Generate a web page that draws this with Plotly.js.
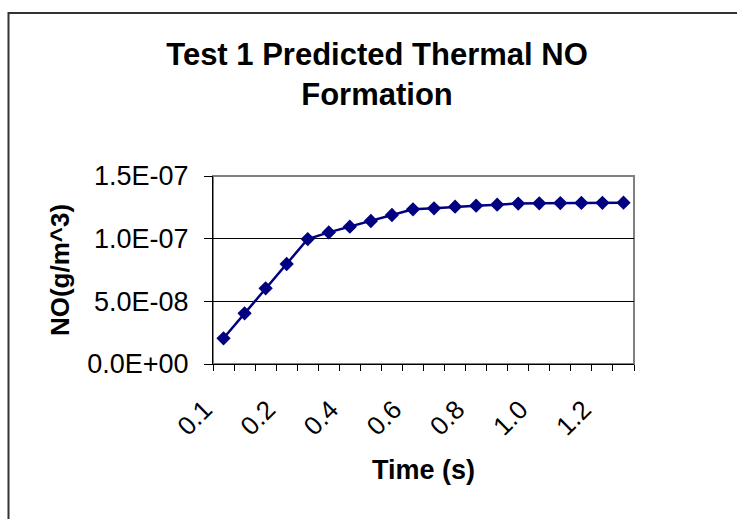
<!DOCTYPE html>
<html>
<head>
<meta charset="utf-8">
<script src="https://cdn.plot.ly/plotly-3.0.1.min.js"></script>
<style>html,body{margin:0;padding:0;background:#fff;}#chart{width:737px;height:519px;}</style>
</head>
<body>
<div id="chart"></div>
<script>
// Category index (Excel category axis, 20 time steps)
var categoryIndex = [1,2,3,4,5,6,7,8,9,10,11,12,13,14,15,16,17,18,19,20];
// Predicted NO concentration (g/m^3)
var noValues = [2.05e-8, 4.04e-8, 6.04e-8, 7.98e-8, 9.97e-8, 1.05e-7, 1.096e-7, 1.141e-7, 1.189e-7, 1.234e-7,
                1.242e-7, 1.255e-7, 1.263e-7, 1.271e-7, 1.28e-7, 1.282e-7, 1.284e-7, 1.285e-7, 1.286e-7, 1.287e-7];
// X tick labels shown every third category
var xTickPositions = [1, 4, 7, 10, 13, 16, 19];
var xTickLabels = ["0.1", "0.2", "0.4", "0.6", "0.8", "1.0", "1.2"];
// Y tick labels
var yTickValues = [0, 5e-8, 1e-7, 1.5e-7];
var yTickLabels = ["0.0E+00", "5.0E-08", "1.0E-07", "1.5E-07"];

var font = "Liberation Sans, Arial, sans-serif";

var trace = {
  x: categoryIndex,
  y: noValues,
  type: "scatter",
  mode: "lines+markers",
  line: {color: "#000080", width: 2.5},
  marker: {symbol: "diamond", size: 11, color: "#000080"},
  hoverinfo: "y"
};

var L = 213, R = 634, T = 176, B = 364, W = 737, H = 519;
function px(x){ return (x - L) / (R - L); }
function py(y){ return (B - y) / (B - T); }

var layout = {
  width: W, height: H,
  margin: {l: L, r: W - R, t: T, b: H - B, pad: 0},
  paper_bgcolor: "#ffffff",
  plot_bgcolor: "#ffffff",
  showlegend: false,
  font: {family: font, color: "#000"},
  title: {
    text: "<b>Test 1 Predicted Thermal NO<br>Formation</b>",
    font: {family: font, size: 31, color: "#000"},
    x: 377 / W,
    xanchor: "center",
    y: 1 - 65 / H,
    yanchor: "top"
  },
  xaxis: {
    range: [0.5, 20.5],
    tickmode: "array",
    tickvals: xTickPositions,
    ticktext: xTickLabels,
    tickangle: -45,
    ticks: "",
    ticklen: 0,
    ticklabelstandoff: 19,
    ticklabelshift: -19,
    tickfont: {family: font, size: 26, color: "#000"},
    showgrid: false,
    zeroline: false,
    showline: true,
    linecolor: "#000",
    linewidth: 1,
    minor: {tick0: 0.5, dtick: 1, ticks: "outside", ticklen: 6, tickcolor: "#000", tickwidth: 1, showgrid: false},
    title: {text: "<b>Time (s)</b>", font: {family: font, size: 27, color: "#000"}, standoff: 19},
    fixedrange: true
  },
  yaxis: {
    range: [0, 1.5e-7],
    tickmode: "array",
    tickvals: yTickValues,
    ticktext: yTickLabels,
    ticks: "outside",
    ticklen: 8,
    tickcolor: "#000",
    ticklabelstandoff: 10,
    tickfont: {family: font, size: 27, color: "#000"},
    showgrid: true,
    gridcolor: "#000",
    gridwidth: 1,
    zeroline: false,
    showline: true,
    linecolor: "#000",
    linewidth: 1,
    title: {text: "<b>NO(g/m^3)</b>", font: {family: font, size: 26, color: "#000"}, standoff: 10},
    fixedrange: true
  },
  shapes: [
    {type: "rect", xref: "paper", yref: "paper", x0: 0, x1: 1, y0: 0, y1: 1,
     line: {color: "#808080", width: 2}, layer: "below"},
    {type: "rect", xref: "paper", yref: "paper", x0: px(8.5), x1: px(760), y0: py(540), y1: py(13),
     line: {color: "#333333", width: 2}, layer: "below"}
  ]
};

Plotly.newPlot("chart", [trace], layout, {displayModeBar: false, staticPlot: true});
</script>
</body>
</html>
